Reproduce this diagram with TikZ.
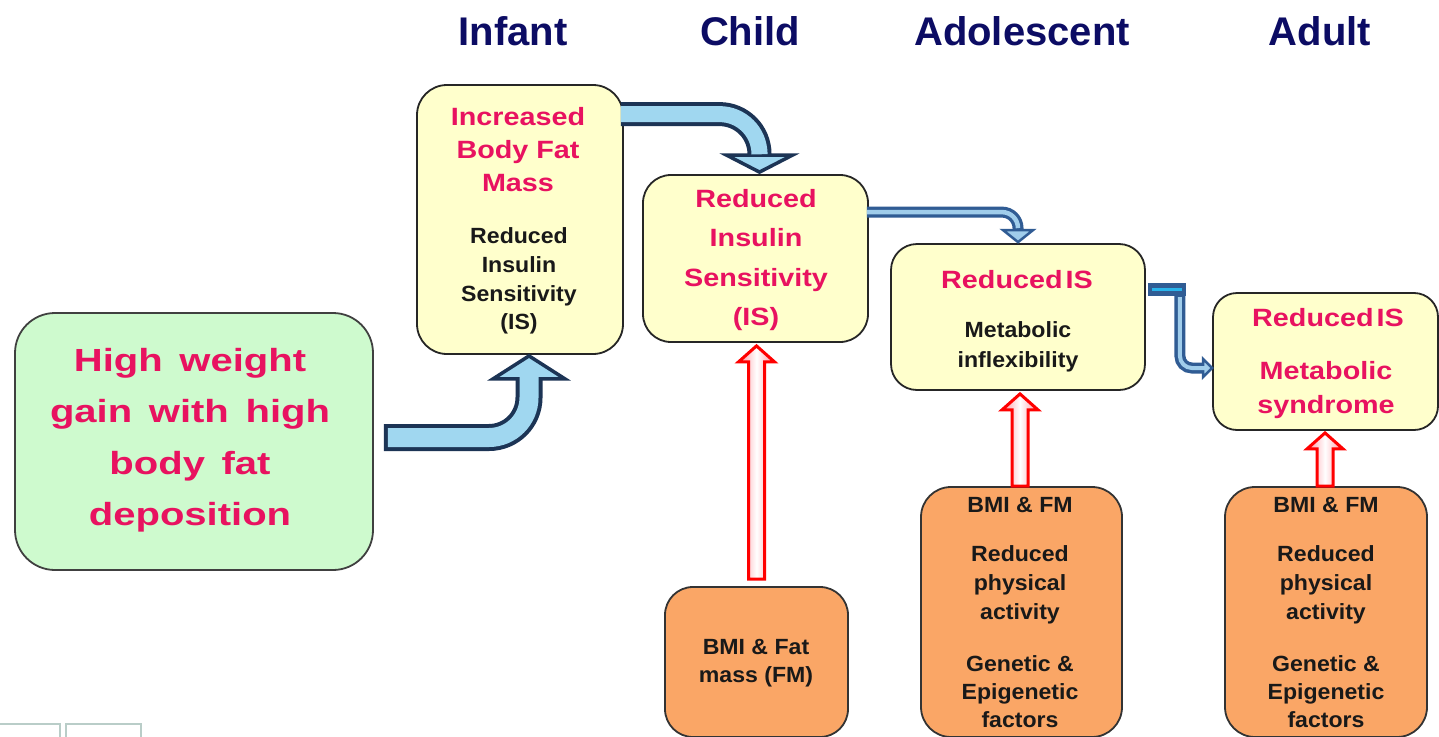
\documentclass[tikz,border=0pt]{standalone}
\usepackage{fontspec}
\setmainfont{Liberation Sans}
\newfontfamily\fP{Liberation Sans}[FakeStretch=1.15]
\newfontfamily\fB{Liberation Sans}[FakeStretch=1.05]
\newfontfamily\fG{Liberation Sans}[FakeStretch=1.25,WordSpace=1.5]
\usetikzlibrary{calc}
\definecolor{pinkc}{RGB}{232,18,96}
\definecolor{navyc}{RGB}{12,12,100}
\definecolor{yelc}{RGB}{255,255,204}
\definecolor{grnc}{RGB}{206,250,206}
\definecolor{orc}{RGB}{250,166,102}
\definecolor{bdark}{RGB}{28,52,85}
\definecolor{blight}{RGB}{160,215,240}
\definecolor{tdark}{RGB}{48,92,148}
\definecolor{tlight}{RGB}{160,205,235}
\definecolor{cyanc}{RGB}{40,180,235}
\definecolor{redc}{RGB}{255,0,0}
\definecolor{redf}{RGB}{255,150,160}
\definecolor{faint}{RGB}{185,205,200}
\newcommand\redup[2]{\draw[redarr] let \p1=(#1), \p2=(#2) in
  (\x1,\y2) -- (\x1+18pt,\y2-16pt) -- (\x1+8pt,\y2-16pt) -- (\x1+8pt,\y1)
  -- (\x1-8pt,\y1) -- (\x1-8pt,\y2-16pt) -- (\x1-18pt,\y2-16pt) -- cycle;}
\begin{document}
\begin{tikzpicture}[x=1pt,y=-1pt,
  box/.style={draw=black!85, line width=1.8pt, inner sep=0pt, rounded corners=#1},
  box/.default=28pt,
  yel/.style={box=#1, fill=yelc},
  grn/.style={box=#1, fill=grnc, draw=black!75},
  orn/.style={box=#1, fill=orc, draw=black!80},
  title/.style={font=\bfseries\fontsize{40}{40}\selectfont, text=navyc, inner sep=0pt},
  pinkt/.style={font=\fP\bfseries\fontsize{25}{33}\selectfont, text=pinkc, align=center, inner sep=0pt},
  blackt/.style={font=\fB\bfseries\fontsize{22}{29}\selectfont, text=black!90, align=center, inner sep=0pt},
  redarr/.style={draw=redc, line width=3pt, left color=redf, right color=redf, middle color=white, line join=miter},
  headb/.style={draw=bdark, fill=blight, line width=3.5pt, line join=miter},
  headt/.style={draw=tdark, fill=tlight, line width=2.5pt, line join=miter}
]
\useasboundingbox (0,0) rectangle (1439,736);
\fill[white] (0,0) rectangle (1439,736);
\clip (0,0) rectangle (1439,736);

% faint slide remnants
\draw[faint, line width=1.2pt] (-5,724) rectangle (60,745);
\draw[faint, line width=1.2pt] (66,724) rectangle (141,745);

% titles
\node[title] (tInf) at (513,31) {Infant};
\node[title] (tChild) at (750,31) {Child};
\node[title] (tAdol) at (1022,31) {Adolescent};
\node[title] (tAdult) at (1320,31) {Adult};

% box shapes
\path node[grn=40pt, minimum width=358pt, minimum height=257pt] (green) at (194,441.5) {};
\path node[yel=30pt, minimum width=206pt, minimum height=269pt] (infant) at (520,219.5) {};
\path node[yel=28pt, minimum width=225pt, minimum height=167pt] (child) at (755.5,258.5) {};
\path node[yel=26pt, minimum width=254pt, minimum height=146pt] (adol) at (1018,317) {};
\path node[yel=24pt, minimum width=225pt, minimum height=137pt] (adult) at (1325.5,361.5) {};
\path node[orn=28pt, minimum width=183pt, minimum height=150pt] (o1) at (756.5,662) {};
\path node[orn=30pt, minimum width=201pt, minimum height=250pt] (o2) at (1021.5,612) {};
\path node[orn=30pt, minimum width=202pt, minimum height=250pt] (o3) at (1326,612) {};

% ---- blue arrow 1: green -> infant
\coordinate (a1s) at ([xshift=10pt,yshift=4pt]green.east);
\coordinate (a1t) at ([xshift=9pt,yshift=-1pt]infant.south);
\draw[bdark, line width=27pt, rounded corners=40pt] (a1s) -- (a1s -| a1t) -- ([yshift=-24pt]a1t);
\draw[headb] (a1t) -- ([xshift=36pt,yshift=-23pt]a1t) -- ([xshift=-36pt,yshift=-23pt]a1t) -- cycle;
\draw[blight, line width=19pt, rounded corners=40pt, shorten <=4pt] (a1s) -- (a1s -| a1t) -- ([yshift=-19pt]a1t);

% ---- blue arrow 2: infant -> child
\coordinate (a2s) at ([xshift=-3pt,yshift=-30pt]infant.north east);
\coordinate (a2t) at ([xshift=4pt,yshift=2pt]child.north);
\draw[bdark, line width=24pt, rounded corners=40pt] (a2s) -- (a2s -| a2t) -- ([yshift=16pt]a2t);
\draw[headb] (a2t) -- ([xshift=33pt,yshift=17pt]a2t) -- ([xshift=-33pt,yshift=17pt]a2t) -- cycle;
\draw[blight, line width=16pt, rounded corners=40pt] (a2s) -- (a2s -| a2t) -- ([yshift=20pt]a2t);

% ---- thin arrow 3: child -> adolescent
\coordinate (a3s) at ([xshift=-2pt,yshift=-38pt]child.north east);
\coordinate (a3t) at ([yshift=1pt]adol.north);
\draw[tdark, line width=11pt, rounded corners=16pt] (a3s) -- (a3s -| a3t) -- ([yshift=11pt]a3t);
\draw[headt] (a3t) -- ([xshift=15pt,yshift=12pt]a3t) -- ([xshift=-15pt,yshift=12pt]a3t) -- cycle;
\draw[tlight, line width=4.5pt, rounded corners=16pt] (a3s) -- (a3s -| a3t) -- ([yshift=14pt]a3t);

% ---- thin arrow 4: adolescent -> adult
\coordinate (a4s) at ([xshift=2pt,yshift=-46pt]adol.north east);
\coordinate (a4b) at ([xshift=32pt]a4s);
\coordinate (a4t) at ([yshift=-6.5pt]adult.west);
\draw[tdark, line width=13pt] (a4s) -- ([xshift=6pt]a4b);
\draw[tdark, line width=11pt, rounded corners=12pt] (a4b) -- (a4b |- a4t) -- ([xshift=-8pt]a4t);
\draw[headt] (a4t) -- ([xshift=-9pt,yshift=9pt]a4t) -- ([xshift=-9pt,yshift=-9pt]a4t) -- cycle;
\draw[cyanc, line width=3pt] ([xshift=4pt]a4s) -- ([xshift=2pt]a4b);
\draw[tlight, line width=4pt, rounded corners=12pt] ([yshift=-8pt]a4b) -- (a4b |- a4t) -- ([xshift=-6pt]a4t);

% ---- red arrows
\redup{[yshift=7pt]o1.north}{[yshift=-3pt]child.south}
\redup{[xshift=-1.5pt]o2.north}{[yshift=-3pt]adol.south}
\redup{[xshift=-1pt]o3.north}{[yshift=-2pt]adult.south}

% ---- texts
\node[font=\fG\bfseries\fontsize{32}{51.5}\selectfont, text=pinkc, align=center, inner sep=0pt] (gT) at (190,440)
  {High weight\\gain with high\\body fat\\deposition};

\node[pinkt] (iP) at (518,150) {Increased\\Body Fat\\Mass};
\node[blackt, font=\fB\bfseries\fontsize{22}{28.7}\selectfont] (iB) at (519,281) {Reduced\\Insulin\\Sensitivity\\(IS)};

\node[pinkt, font=\fP\bfseries\fontsize{25}{39.3}\selectfont] (cP) at (756,260) {Reduced\\Insulin\\Sensitivity\\(IS)};

\node[pinkt] (dP) at (1017,280) {Reduced\hspace{0.12em}IS};
\node[blackt, font=\fB\bfseries\fontsize{22}{30}\selectfont] (dB) at (1018,347) {Metabolic\\inflexibility};

\node[pinkt] (uP) at (1328,318) {Reduced\hspace{0.12em}IS};
\node[pinkt, font=\fP\bfseries\fontsize{25}{34}\selectfont] (uP2) at (1326,390) {Metabolic\\syndrome};

\node[blackt, font=\fB\bfseries\fontsize{22}{28}\selectfont] (o1T) at (756,663) {BMI \& Fat\\mass (FM)};

\node[blackt] (o2a) at (1020,505) {BMI \& FM};
\node[blackt] (o2b) at (1020,585) {Reduced\\physical\\activity};
\node[blackt, font=\fB\bfseries\fontsize{22}{28}\selectfont] (o2c) at (1020,692) {Genetic \&\\Epigenetic\\factors};

\node[blackt] (o3a) at (1326,505) {BMI \& FM};
\node[blackt] (o3b) at (1326,585) {Reduced\\physical\\activity};
\node[blackt, font=\fB\bfseries\fontsize{22}{28}\selectfont] (o3c) at (1326,692) {Genetic \&\\Epigenetic\\factors};
\end{tikzpicture}
\end{document}
